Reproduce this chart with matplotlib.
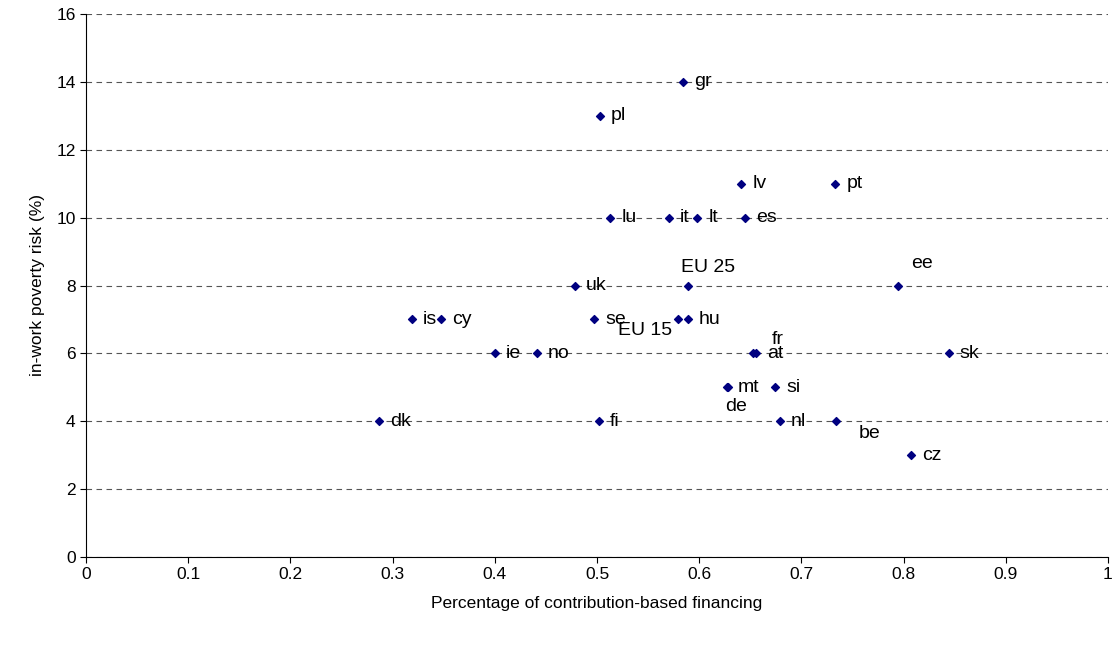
import matplotlib
matplotlib.use("Agg")
import matplotlib.pyplot as plt
import numpy as np

plt.rcParams['font.family'] = ['Liberation Sans', 'DejaVu Sans']

countries = ['gr', 'pl', 'lv', 'pt', 'lu', 'it', 'lt', 'es', 'EU 25', 'ee', 'uk',
             'is', 'cy', 'se', 'EU 15', 'hu', 'ie', 'no', 'fr', 'at', 'sk',
             'mt', 'de', 'si', 'dk', 'fi', 'nl', 'be', 'cz']
contrib = [0.584, 0.503, 0.641, 0.733, 0.513, 0.570, 0.598, 0.645, 0.589, 0.795, 0.478,
           0.319, 0.347, 0.497, 0.579, 0.589, 0.400, 0.441, 0.653, 0.656, 0.844,
           0.627, 0.628, 0.674, 0.287, 0.502, 0.679, 0.734, 0.807]
poverty = [14, 13, 11, 11, 10, 10, 10, 10, 8, 8, 8,
           7, 7, 7, 7, 7, 6, 6, 6, 6, 6,
           5, 5, 5, 4, 4, 4, 4, 3]

# label offsets in points (most labels sit to the right of the marker)
special = {'EU 25': (-5, 13), 'ee': (9, 16), 'EU 15': (-43, -8), 'fr': (13, 10),
           'de': (-2, -14), 'be': (16, -9)}

fig = plt.figure(figsize=(11.17, 6.47), dpi=100, facecolor='w')
ax = fig.add_axes([86 / 1117, 90 / 647, 1022 / 1117, 543 / 647])

ax.scatter(contrib, poverty, marker='D', s=16, color='#000080', zorder=3)
for name, x, y in zip(countries, contrib, poverty):
    dx, dy = special.get(name, (8, 0))
    ax.annotate(name, (x, y), xytext=(dx, dy), textcoords='offset points',
                fontsize=14, va='center', ha='left')

ax.set_xlim(0, 1)
ax.set_ylim(0, 16)
ax.set_xticks(np.arange(0, 1.01, 0.1))
ax.set_xticklabels(['0', '0.1', '0.2', '0.3', '0.4', '0.5', '0.6', '0.7', '0.8', '0.9', '1'])
ax.set_yticks(range(0, 17, 2))
ax.tick_params(labelsize=12.5, direction='out', length=4)
ax.yaxis.grid(True, linestyle=(0, (5, 4)), color='#555555', linewidth=0.8)
ax.set_axisbelow(True)
for s in ['top', 'right']:
    ax.spines[s].set_visible(False)
ax.set_xlabel("Percentage of contribution-based financing", fontsize=12.5, labelpad=10)
ax.set_ylabel("in-work poverty risk (%)", fontsize=12.5, labelpad=8)

fig.savefig("out.png", dpi=100)
